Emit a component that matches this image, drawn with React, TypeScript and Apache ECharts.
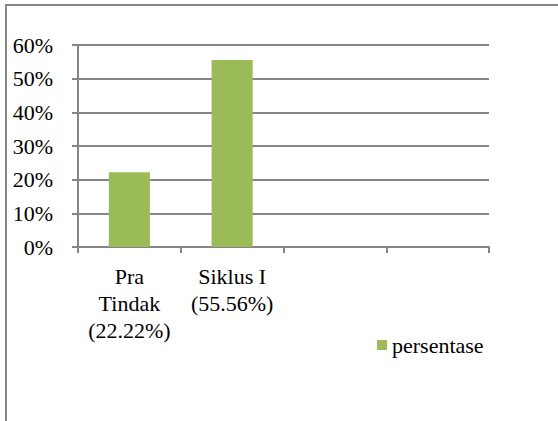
import React, { useEffect, useRef } from "react";
import * as echarts from "echarts";

const categories = ["Pra\nTindak\n(22.22%)", "Siklus I\n(55.56%)", "", ""];
const persentase: (number | null)[] = [22.22, 55.56, null, null];
const yTicks = { min: 0, max: 60, interval: 10 };
const seriesName = "persentase";

const FONT = "Liberation Serif";
const GRAY = "#868686";

export default function App() {
  const ref = useRef<HTMLDivElement>(null);
  useEffect(() => {
    if (!ref.current) return;
    const chart = echarts.init(ref.current, undefined, { renderer: "svg" });
    chart.setOption({
      animation: false,
      backgroundColor: "#ffffff",
      textStyle: { fontFamily: FONT },
      graphic: [
        {
          type: "rect",
          shape: { x: 6, y: 5, width: 700, height: 600 },
          style: { fill: "none", stroke: GRAY, lineWidth: 2 },
          silent: true,
        },
      ],
      grid: { left: 78, right: 69, top: 45, bottom: 174, containLabel: false },
      legend: {
        data: [seriesName],
        left: 377,
        top: 334,
        padding: 0,
        icon: "rect",
        itemWidth: 10,
        itemHeight: 10,
        itemGap: 5,
        textStyle: { fontFamily: FONT, fontSize: 22, color: "#000" },
      },
      xAxis: {
        type: "category",
        data: categories,
        axisLine: { show: true, lineStyle: { color: GRAY, width: 2 } },
        axisTick: { show: true, length: 6, lineStyle: { color: GRAY, width: 2 } },
        axisLabel: {
          interval: 0,
          margin: 16,
          fontFamily: FONT,
          fontSize: 22,
          lineHeight: 27,
          color: "#000",
        },
      },
      yAxis: {
        type: "value",
        min: yTicks.min,
        max: yTicks.max,
        interval: yTicks.interval,
        axisLine: { show: true, lineStyle: { color: GRAY, width: 2 } },
        axisTick: { show: true, length: 6, lineStyle: { color: GRAY, width: 2 } },
        splitLine: { show: true, lineStyle: { color: GRAY, width: 2 } },
        axisLabel: {
          formatter: "{value}%",
          margin: 25,
          fontFamily: FONT,
          fontSize: 22,
          color: "#000",
        },
      },
      series: [
        {
          name: seriesName,
          type: "bar",
          data: persentase,
          barWidth: "40%",
          itemStyle: { color: "#9BBB59" },
        },
      ],
    });
    return () => chart.dispose();
  }, []);
  return (
    <div
      ref={ref}
      style={{ position: "absolute", left: 0, top: 0, width: 558, height: 421 }}
    />
  );
}
